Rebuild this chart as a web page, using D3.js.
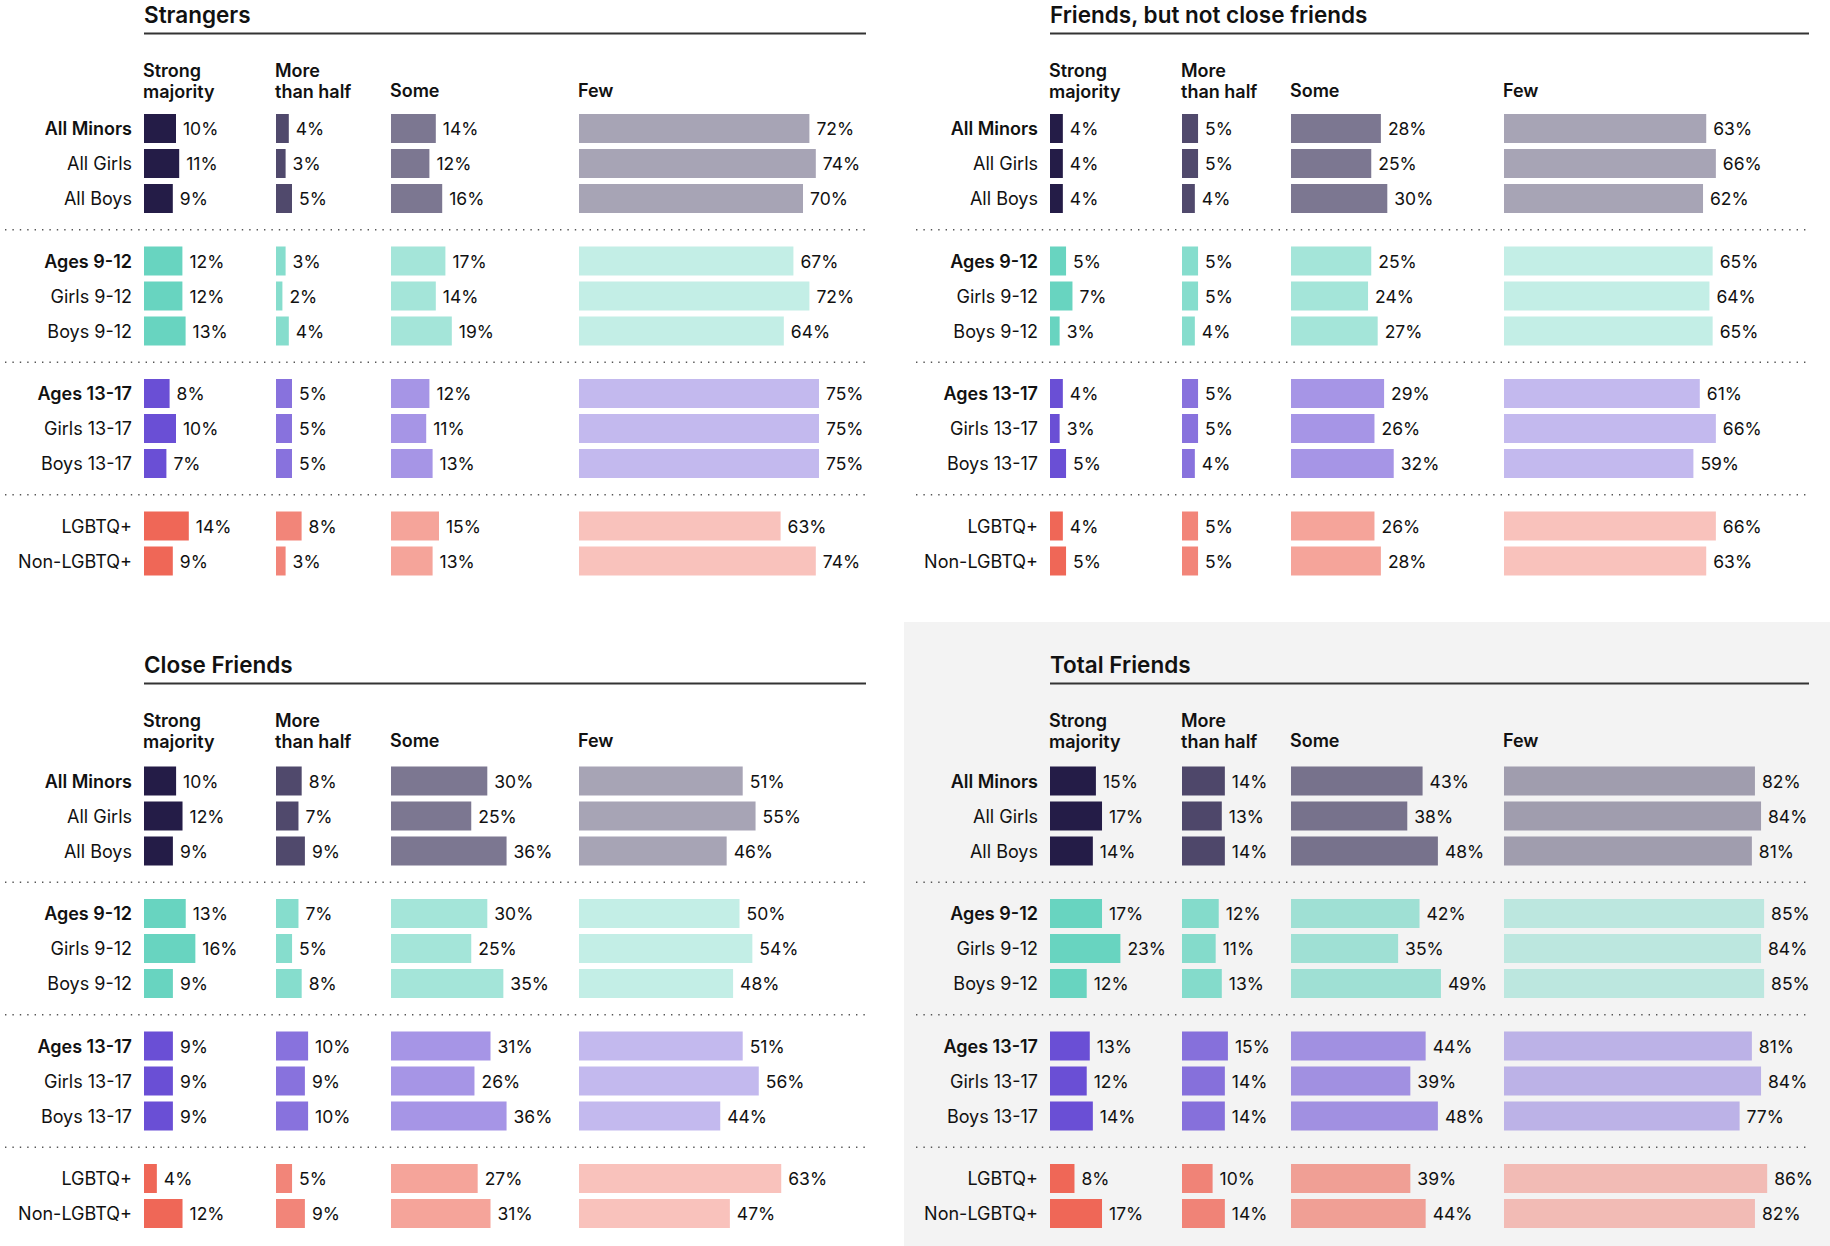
<!DOCTYPE html>
<html>
<head>
<meta charset="utf-8">
<script src="https://cdn.jsdelivr.net/npm/d3@7"></script>
<style>
  body { margin: 0; background: #fff; }
  svg { display: block; font-family: Inter, "Noto Sans", sans-serif; }
</style>
</head>
<body>
<div id="chart"></div>
<script>
// row labels and groups
const rowLabels = ["All Minors", "All Girls", "All Boys", "Ages 9-12", "Girls 9-12", "Boys 9-12",
  "Ages 13-17", "Girls 13-17", "Boys 13-17", "LGBTQ+", "Non-LGBTQ+"];
const rowGroup = [0, 0, 0, 1, 1, 1, 2, 2, 2, 3, 3];
const boldRows = ["All Minors", "Ages 9-12", "Ages 13-17"];
const columnHeads = [["Strong", "majority"], ["More", "than half"], ["Some"], ["Few"]];
const groupColors = ["#241c47", "#68d4c0", "#6a4fd5", "#ef6757"];
const columnOpacity = [1, 0.8, 0.6, 0.4];

// Strangers
const strangersStrong = [10, 11, 9, 12, 12, 13, 8, 10, 7, 14, 9];
const strangersMore = [4, 3, 5, 3, 2, 4, 5, 5, 5, 8, 3];
const strangersSome = [14, 12, 16, 17, 14, 19, 12, 11, 13, 15, 13];
const strangersFew = [72, 74, 70, 67, 72, 64, 75, 75, 75, 63, 74];

// Friends, but not close friends
const friendsStrong = [4, 4, 4, 5, 7, 3, 4, 3, 5, 4, 5];
const friendsMore = [5, 5, 4, 5, 5, 4, 5, 5, 4, 5, 5];
const friendsSome = [28, 25, 30, 25, 24, 27, 29, 26, 32, 26, 28];
const friendsFew = [63, 66, 62, 65, 64, 65, 61, 66, 59, 66, 63];

// Close Friends
const closeStrong = [10, 12, 9, 13, 16, 9, 9, 9, 9, 4, 12];
const closeMore = [8, 7, 9, 7, 5, 8, 10, 9, 10, 5, 9];
const closeSome = [30, 25, 36, 30, 25, 35, 31, 26, 36, 27, 31];
const closeFew = [51, 55, 46, 50, 54, 48, 51, 56, 44, 63, 47];

// Total Friends
const totalStrong = [15, 17, 14, 17, 23, 12, 13, 12, 14, 8, 17];
const totalMore = [14, 13, 14, 12, 11, 13, 15, 14, 14, 10, 14];
const totalSome = [43, 38, 48, 42, 35, 49, 44, 39, 48, 39, 44];
const totalFew = [82, 84, 81, 85, 84, 85, 81, 84, 77, 86, 82];

const W = 1830, H = 1246;

const panels = [
  { title: "Strangers", data: [strangersStrong, strangersMore, strangersSome, strangersFew],
    cols: [144, 276, 391, 579], lineEnd: 866, sepStart: 5, top: 0, rowTop: 128.5, full: 320 },
  { title: "Friends, but not close friends", data: [friendsStrong, friendsMore, friendsSome, friendsFew],
    cols: [1050, 1182, 1291, 1504], lineEnd: 1809, sepStart: 916, top: 0, rowTop: 128.5, full: 321 },
  { title: "Close Friends", data: [closeStrong, closeMore, closeSome, closeFew],
    cols: [144, 276, 391, 579], lineEnd: 866, sepStart: 5, top: 650, rowTop: 781, full: 321 },
  { title: "Total Friends", data: [totalStrong, totalMore, totalSome, totalFew],
    cols: [1050, 1182, 1291, 1504], lineEnd: 1809, sepStart: 916, top: 650, rowTop: 781, full: 306 }
];

const svg = d3.select("#chart").append("svg")
  .attr("width", W)
  .attr("height", H);

// gray box behind Total Friends
svg.append("rect")
  .attr("x", 904).attr("y", 622)
  .attr("width", W - 904).attr("height", H - 622)
  .attr("fill", "#f3f3f3");

const rowStep = 35, groupGap = 27.5, barH = 29;

panels.forEach(p => {
  const g = svg.append("g");
  const x = d3.scaleLinear().domain([0, 100]).range([0, p.full]);
  const y = i => p.rowTop + i * rowStep + rowGroup[i] * groupGap;
  const x0 = p.cols[0];

  // title and rule
  g.append("text")
    .attr("x", x0).attr("y", p.top + 23)
    .attr("font-size", 22.5).attr("font-weight", 600).attr("fill", "#111")
    .text(p.title);
  g.append("line")
    .attr("x1", x0).attr("x2", p.lineEnd)
    .attr("y1", p.top + 33.5).attr("y2", p.top + 33.5)
    .attr("stroke", "#333").attr("stroke-width", 2);

  // column headers
  columnHeads.forEach((lines, c) => {
    const t = g.append("text")
      .attr("x", p.cols[c] - 1).attr("font-size", 18).attr("font-weight", 600).attr("fill", "#111");
    lines.forEach((s, k) => {
      const baseline = lines.length === 2 ? (k === 0 ? 77 : 98) : 97;
      t.append("tspan").attr("x", p.cols[c] - 1).attr("y", p.top + baseline).text(s);
    });
  });

  // row labels
  g.selectAll(".rowlabel")
    .data(rowLabels)
    .join("text")
    .attr("x", x0 - 12)
    .attr("y", (d, i) => y(i))
    .attr("dy", "0.38em")
    .attr("text-anchor", "end")
    .attr("font-size", 18)
    .attr("font-weight", d => boldRows.includes(d) ? 600 : 400)
    .attr("fill", "#111")
    .text(d => d);

  // separators between groups
  for (let k = 0; k < 3; k++) {
    const last = rowGroup.lastIndexOf(k);
    const yy = (y(last) + y(last + 1)) / 2;
    g.append("line")
      .attr("x1", p.sepStart).attr("x2", p.lineEnd)
      .attr("y1", yy).attr("y2", yy)
      .attr("stroke", "#555").attr("stroke-width", 1.4)
      .attr("stroke-dasharray", "1.4,6");
  }

  // bars and values
  p.data.forEach((vals, c) => {
    const cx = p.cols[c];
    g.selectAll(".bar" + c)
      .data(vals)
      .join("rect")
      .attr("x", cx)
      .attr("y", (d, i) => y(i) - barH / 2)
      .attr("width", d => x(d))
      .attr("height", barH)
      .attr("fill", (d, i) => groupColors[rowGroup[i]])
      .attr("fill-opacity", columnOpacity[c]);

    g.selectAll(".val" + c)
      .data(vals)
      .join("text")
      .attr("x", d => cx + x(d) + 7)
      .attr("y", (d, i) => y(i))
      .attr("dy", "0.38em")
      .attr("font-size", 17.5)
      .attr("fill", "#111")
      .text(d => d + "%");
  });
});
</script>
</body>
</html>
